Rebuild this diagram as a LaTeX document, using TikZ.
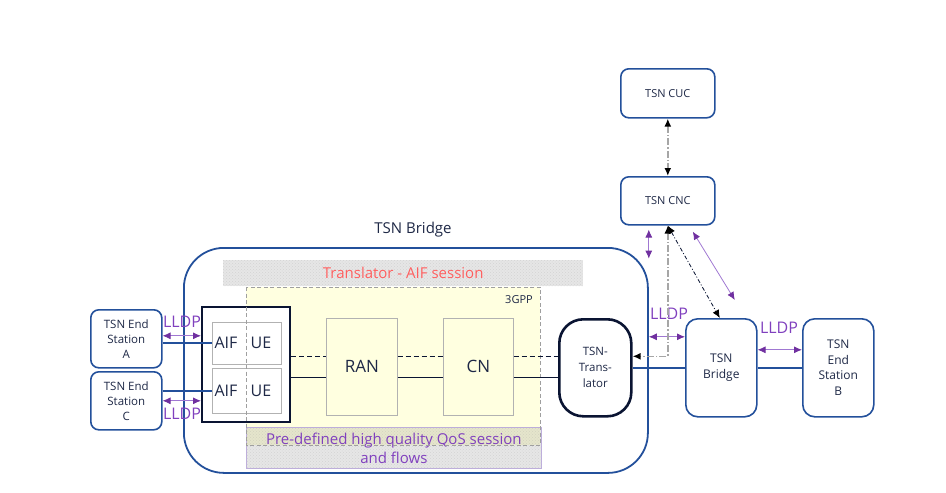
\documentclass[tikz,border=0pt]{standalone}
\usepackage{fontspec}
\setmainfont{Open Sans}
\usetikzlibrary{arrows.meta,patterns,calc}
\definecolor{bl}{RGB}{35,80,155}
\definecolor{navy}{RGB}{30,40,70}
\definecolor{dk}{RGB}{10,20,50}
\definecolor{pu}{RGB}{112,48,160}
\definecolor{lpu}{RGB}{160,120,210}
\definecolor{ptxt}{RGB}{128,64,190}
\definecolor{rtxt}{RGB}{255,95,95}
\definecolor{yel}{RGB}{255,255,224}
\definecolor{lav}{RGB}{190,175,220}
\newcommand{\fsz}[2]{\fontsize{#1}{#2}\selectfont}
\tikzset{
  bluebox/.style={draw=bl, line width=1.6pt, rounded corners=8pt, fill=white, text=navy, align=center, font=\fsz{11.5}{15}, inner sep=0pt},
  band/.style={fill=gray, fill opacity=0.2, draw opacity=1, postaction={pattern=crosshatch dots, pattern color=gray!90}, inner sep=0pt},
  grybox/.style={draw=gray!60, line width=0.7pt, inner sep=0pt, text=navy},
  parr/.style={draw=lpu, line width=0.8pt, {Latex[length=8pt,width=7pt,color=pu]}-{Latex[length=8pt,width=7pt,color=pu]}},
  lldp/.style={text=ptxt, font=\fsz{16}{18}},
  gdd/.style={draw=gray!70, line width=1.6pt, dash pattern=on 7pt off 2pt on 1.5pt off 2pt},
  bdd/.style={draw=dk, line width=0.8pt, dash pattern=on 4pt off 2pt on 1pt off 2pt},
  btip/.style={{Latex[length=8pt,width=7pt,color=black]}-{Latex[length=8pt,width=7pt,color=black]}},
}
\begin{document}
\begin{tikzpicture}[x=1pt,y=-1pt]
\useasboundingbox (0,0) rectangle (946,493);

% big TSN bridge
\node[draw=bl, line width=1.8pt, rounded corners=40pt, minimum width=464pt, minimum height=225pt, anchor=north west, inner sep=0pt] (big) at (183,247) {};
\node[text=navy, font=\fsz{15}{18}] (title) at (413,230) {TSN Bridge};

% Translator - AIF session band
\node[band, draw=none, minimum width=360pt, minimum height=26pt, anchor=north west] (b1) at (223,260) {};
\node[text=rtxt, font=\fsz{15}{18}] (b1t) at (b1.center) {Translator - AIF session};

% 3GPP area
\node[fill=yel, draw=none, minimum width=294pt, minimum height=158pt, anchor=north west, inner sep=0pt] (gpp) at (246,287) {};
\node[text=navy, font=\fsz{11}{13}] (gppl) at (519,300) {3GPP};

% predefined band
\node[band, draw=lav, line width=0.7pt, minimum width=295pt, minimum height=41pt, anchor=north west] (b2) at (246,427) {};
\node[text=ptxt, font=\fsz{15}{19}, align=center] (b2t) at (b2.center) {Pre-defined high quality QoS session\\and flows};

% AIF / UE block
\node[draw=dk, line width=2pt, fill=white, minimum width=88pt, minimum height=115pt, anchor=north west, inner sep=0pt] (aifbox) at (201,306) {};
\node[grybox, fill=white, minimum width=69pt, minimum height=42pt, anchor=north west] (aif1) at (212,322) {};
\node[grybox, fill=white, minimum width=69pt, minimum height=45pt, anchor=north west] (aif2) at (212,368) {};
\node[text=navy, font=\fsz{16}{18}] (a1) at (226,343) {AIF};
\node[text=navy, font=\fsz{16}{18}] (u1) at (261,343) {UE};
\node[text=navy, font=\fsz{16}{18}] (a2) at (226,391) {AIF};
\node[text=navy, font=\fsz{16}{18}] (u2) at (261,391) {UE};

% 3GPP dashed border on top
\draw[draw=gray!75, line width=1pt, dash pattern=on 4pt off 2.5pt] (gpp.north west) rectangle (gpp.south east);

% RAN, CN
\node[grybox, fill=yel, minimum width=71pt, minimum height=97pt, anchor=north west, font=\fsz{17}{19}] (ran) at (326,318) {RAN};
\node[grybox, fill=yel, minimum width=70pt, minimum height=97pt, anchor=north west, font=\fsz{17}{19}] (cn) at (443,318) {CN};

% TSN Translator
\node[draw=dk, line width=2.6pt, rounded corners=24pt, fill=white, minimum width=72pt, minimum height=97pt, anchor=north west, inner sep=0pt, text=navy, align=center, font=\fsz{11.5}{16}] (tr) at (558,318) {TSN-\\Trans-\\lator};

% 3GPP internal links
\coordinate (d1) at ([yshift=10.5pt]ran.west);
\coordinate (s1) at ([yshift=-10.5pt]ran.west);
\draw[dk, line width=1.4pt, dash pattern=on 5pt off 3pt] (d1 -| aifbox.east) -- (d1);
\draw[dk, line width=1.4pt, dash pattern=on 5pt off 3pt] (ran.east |- d1) -- (cn.west |- d1);
\draw[dk, line width=1.4pt, dash pattern=on 5pt off 3pt] (cn.east |- d1) -- (tr.west |- d1);
\draw[dk, line width=1.4pt] (s1 -| aifbox.east) -- (s1);
\draw[dk, line width=1.4pt] (ran.east |- s1) -- (cn.west |- s1);
\draw[dk, line width=1.4pt] (cn.east |- s1) -- (tr.west |- s1);

% End stations A and C
\node[bluebox, minimum width=71pt, minimum height=58pt, anchor=north west] (esA) at (90,309) {TSN End\\Station\\A};
\node[bluebox, minimum width=71pt, minimum height=58pt, anchor=north west] (esC) at (90,371) {TSN End\\Station\\C};
\draw[bl, line width=1.8pt] (esA.east |- aif1.west) -- (aif1.west);
\draw[bl, line width=1.8pt] (esC.east |- aif2.west) -- (aif2.west);
\coordinate (lA) at ([yshift=3pt]esA.east);
\draw[parr] (lA) -- (lA -| aifbox.west);
\draw[parr] (esC.east) -- (esC.east -| aifbox.west);
\node[lldp] (lldpA) at (182,322) {LLDP};
\node[lldp] (lldpC) at (182,414) {LLDP};

% right side
\node[bluebox, rounded corners=12pt, minimum width=71pt, minimum height=98pt, anchor=north west, font=\fsz{12}{16}] (sb) at (685,318) {TSN\\Bridge};
\node[bluebox, rounded corners=12pt, minimum width=71pt, minimum height=98pt, anchor=north west, font=\fsz{12}{15.5}] (esB) at (802,318) {TSN\\End\\Station\\B};
\draw[bl, line width=1.6pt] (tr.east) -- (sb.west);
\draw[bl, line width=1.6pt] (sb.east) -- (esB.west);
\coordinate (l3) at ([yshift=31pt]sb.west);
\draw[parr] (l3 -| big.east) -- (l3);
\coordinate (l4) at ([yshift=18pt]sb.east);
\draw[parr] (l4) -- (l4 -| esB.west);
\node[lldp] (lldp3) at (669,314) {LLDP};
\node[lldp] (lldp4) at (779,328) {LLDP};

% CUC / CNC
\node[bluebox, minimum width=94pt, minimum height=49pt, anchor=north west, font=\fsz{11}{14}] (cuc) at (620,68) {TSN CUC};
\node[bluebox, minimum width=94pt, minimum height=48pt, anchor=north west, font=\fsz{11}{14}] (cnc) at (620,176) {TSN CNC};
\draw[gdd, btip] (cuc.south) -- (cnc.north);
\draw[parr] ([xshift=-19pt,yshift=-4pt]cnc.south) -- ([xshift=-19pt,yshift=-33pt]cnc.south);
\coordinate (g1) at ([yshift=11.5pt]tr.east);
\draw[gdd, btip] (cnc.south) |- (g1);
\draw[bdd, btip] (cnc.south) -- ([xshift=-1.5pt]sb.north);
\draw[parr] ([xshift=25pt,yshift=-6pt]cnc.south) -- ([xshift=13.5pt,yshift=18pt]sb.north);
\end{tikzpicture}
\end{document}
